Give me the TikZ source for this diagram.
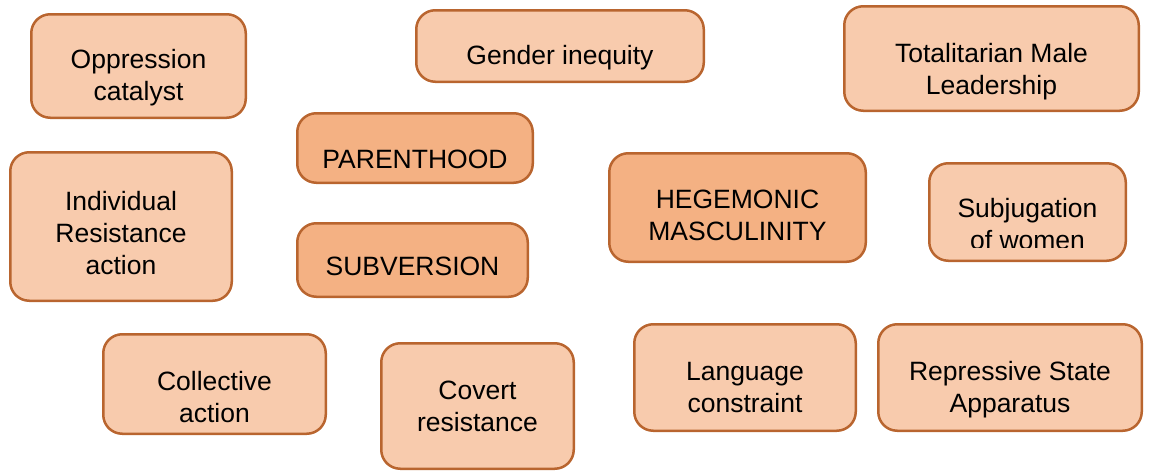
\documentclass[tikz,border=0pt]{standalone}
\usepackage{fontspec}
\setmainfont{Liberation Sans}
\definecolor{peachfill}{HTML}{F8CBAD}
\definecolor{apricotfill}{HTML}{F4B183}
\definecolor{rustline}{HTML}{B9652F}
\tikzset{
  tile/.style={draw=rustline, line width=2.5pt, rounded corners=19pt, inner sep=0pt},
  lighttile/.style={tile, fill=peachfill},
  darktile/.style={tile, fill=apricotfill},
  caption/.style={inner sep=0pt, align=center, text=black,
    font=\fontsize{26.5}{32}\selectfont}
}
\begin{document}
\begin{tikzpicture}[x=1pt, y=-1pt]
\useasboundingbox (0,0) rectangle (1152,471);

% boxes
\node[lighttile, minimum width=214.5pt, minimum height=103.5pt] (opp) at (138.5,66) {};
\node[lighttile, minimum width=287.5pt, minimum height=71.5pt] (gen) at (560,46) {};
\node[lighttile, minimum width=294.5pt, minimum height=104.5pt] (tot) at (991.5,58.5) {};
\node[darktile, minimum width=235.5pt, minimum height=69.5pt] (par) at (415,148) {};
\node[darktile, minimum width=256.5pt, minimum height=108.5pt] (heg) at (737.5,207.5) {};
\node[lighttile, minimum width=221.5pt, minimum height=148.5pt] (ind) at (121,226.5) {};
\node[darktile, minimum width=230.5pt, minimum height=73.5pt] (sub) at (412.5,260) {};
\node[lighttile, minimum width=196.5pt, minimum height=97.5pt] (sbj) at (1027.5,212) {};
\node[lighttile, minimum width=222.5pt, minimum height=99.5pt] (col) at (214.5,384) {};
\node[lighttile, minimum width=192.5pt, minimum height=125.5pt] (cov) at (477.5,406) {};
\node[lighttile, minimum width=221.5pt, minimum height=106.5pt] (lan) at (745,377.5) {};
\node[lighttile, minimum width=263.5pt, minimum height=106.5pt] (rep) at (1010,377.5) {};

% captions
\node[caption] (oppT) at (138.5,77.6) {\strut Oppression\\\strut catalyst};
\node[caption] (genT) at (560,57.6) {\strut Gender inequity};
\node[caption] (totT) at (991.5,72.1) {\strut Totalitarian Male\\\strut Leadership};
\node[caption] (parT) at (415,161.6) {\strut PARENTHOOD};
\node[caption] (hegT) at (737.5,218.1) {\strut HEGEMONIC\\\strut MASCULINITY};
\node[caption] (indT) at (121,235.6) {\strut Individual\\\strut Resistance\\\strut action};
\node[caption] (subT) at (412.5,268.6) {\strut SUBVERSION};
% the second line of this caption is cut off at the bottom
\begin{scope}
  \clip (928,150) rectangle (1127,247);
  \node[caption] (sbjT) at (1027.5,226.6) {\strut Subjugation\\\strut of women};
\end{scope}
\node[caption] (colT) at (214.5,399.6) {\strut Collective\\\strut action};
\node[caption] (covT) at (477.5,408.6) {\strut Covert\\\strut resistance};
\node[caption] (lanT) at (745,389.6) {\strut Language\\\strut constraint};
\node[caption] (repT) at (1010,389.6) {\strut Repressive State\\\strut Apparatus};
\end{tikzpicture}
\end{document}
